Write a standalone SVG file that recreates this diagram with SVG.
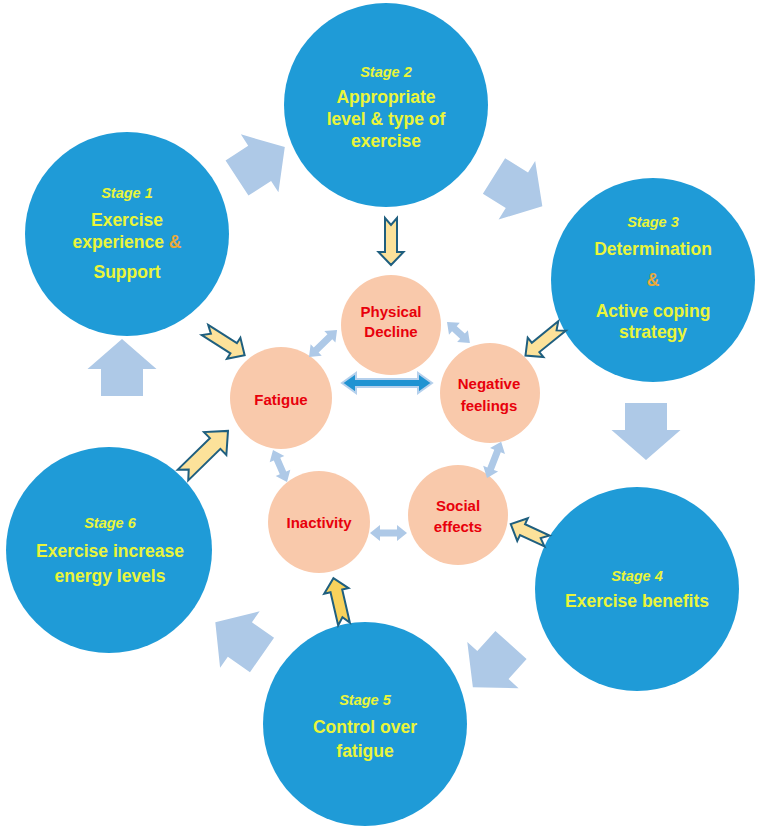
<svg xmlns="http://www.w3.org/2000/svg" width="764" height="834" viewBox="0 0 764 834">
<style>
.stage{fill:#1F9BD7}
.core{fill:#F9C9AB}
.big{fill:#AEC9E7}
.yarr{fill:#FCE29A;stroke:#1F5F7F;stroke-width:2;stroke-linejoin:miter}
.darr{fill:#AEC9E7}
.st{font-family:"Liberation Sans",Arial,sans-serif;font-weight:bold;font-style:italic;font-size:14.5px;fill:#EAF53A;text-anchor:middle}
.sm{font-family:"Liberation Sans",Arial,sans-serif;font-weight:bold;font-size:17.5px;fill:#EAF53A;text-anchor:middle}
.amp{fill:#E9A93B}
.ct{font-family:"Liberation Sans",Arial,sans-serif;font-weight:bold;font-size:15px;fill:#E8000B;text-anchor:middle}
</style>
<defs>
<polygon id="bigArrow" points="0,-21 27,-21 27,-34.5 57,0 27,34.5 27,21 0,21"/>
</defs>
<rect width="764" height="834" fill="#FFFFFF"/>

<g id="cycle-arrows">
<use href="#bigArrow" class="big" transform="translate(237,178) rotate(-33)"/>
<use href="#bigArrow" class="big" transform="translate(494,176) rotate(32)"/>
<use href="#bigArrow" class="big" transform="translate(646,403) rotate(90)"/>
<use href="#bigArrow" class="big" transform="translate(511,645) rotate(132)"/>
<use href="#bigArrow" class="big" transform="translate(262,655) rotate(215)"/>
<use href="#bigArrow" class="big" transform="translate(122,396) rotate(-90)"/>
</g>

<g id="stage1">
<circle class="stage" cx="127" cy="234" r="102"/>
<text class="st" x="127" y="198">Stage 1</text>
<text class="sm" x="127" y="226">Exercise</text>
<text class="sm" x="127" y="248">experience <tspan class="amp">&amp;</tspan></text>
<text class="sm" x="127" y="278">Support</text>
</g>
<g id="stage2">
<circle class="stage" cx="386" cy="105" r="102"/>
<text class="st" x="386" y="77">Stage 2</text>
<text class="sm" x="386" y="103">Appropriate</text>
<text class="sm" x="386" y="125">level &amp; type of</text>
<text class="sm" x="386" y="147">exercise</text>
</g>
<g id="stage3">
<circle class="stage" cx="653" cy="280" r="102"/>
<text class="st" x="653" y="227">Stage 3</text>
<text class="sm" x="653" y="255">Determination</text>
<text class="sm amp" x="653" y="286">&amp;</text>
<text class="sm" x="653" y="317">Active coping</text>
<text class="sm" x="653" y="338">strategy</text>
</g>
<g id="stage4">
<circle class="stage" cx="637" cy="589" r="102"/>
<text class="st" x="637" y="581">Stage 4</text>
<text class="sm" x="637" y="607">Exercise benefits</text>
</g>
<g id="stage5">
<circle class="stage" cx="365" cy="724" r="102"/>
<text class="st" x="365" y="705">Stage 5</text>
<text class="sm" x="365" y="733">Control over</text>
<text class="sm" x="365" y="757">fatigue</text>
</g>
<g id="stage6">
<circle class="stage" cx="109" cy="550" r="103"/>
<text class="st" x="110" y="528">Stage 6</text>
<text class="sm" x="110" y="557">Exercise increase</text>
<text class="sm" x="110" y="582">energy levels</text>
</g>

<g id="physical-decline">
<circle class="core" cx="391" cy="325" r="50"/>
<text class="ct" x="391" y="317">Physical</text>
<text class="ct" x="391" y="337">Decline</text>
</g>
<g id="negative-feelings">
<circle class="core" cx="490" cy="393" r="50"/>
<text class="ct" x="489" y="389">Negative</text>
<text class="ct" x="489" y="411">feelings</text>
</g>
<g id="social-effects">
<circle class="core" cx="458" cy="515" r="50"/>
<text class="ct" x="458" y="511">Social</text>
<text class="ct" x="458" y="532">effects</text>
</g>
<g id="inactivity">
<circle class="core" cx="319" cy="522" r="51"/>
<text class="ct" x="319" y="528">Inactivity</text>
</g>
<g id="fatigue">
<circle class="core" cx="281" cy="398" r="51"/>
<text class="ct" x="281" y="405">Fatigue</text>
</g>

<g id="connectors">
<polygon class="yarr" transform="translate(205,330) rotate(32.5)" points="0,-6 34,-6 34,-12.5 47,0 34,12.5 34,6 0,6 7,0"/>
<polygon class="yarr" transform="translate(391,218) rotate(90)" points="0,-6 34,-6 34,-12.5 47,0 34,12.5 34,6 0,6 7,0"/>
<polygon class="yarr" transform="translate(562,326) rotate(141)" points="0,-6 34,-6 34,-12.5 47,0 34,12.5 34,6 0,6 7,0"/>
<polygon class="yarr" transform="translate(547,541) rotate(205)" points="0,-6 27,-6 27,-12.5 40,0 27,12.5 27,6 0,6 7,0"/>
<polygon class="yarr" style="fill:#F8D25C" transform="translate(344,624) rotate(-103)" points="0,-6 34,-6 34,-12.5 47,0 34,12.5 34,6 0,6 7,0"/>
<polygon class="yarr" transform="translate(183,475) rotate(-44.4)" points="0,-7.5 45,-7.5 45,-16 63,0 45,16 45,7.5 0,7.5 8,0"/>

<polygon class="darr" transform="translate(309,357) rotate(-44)" points="0,0 10,-8 10,-3.5 29,-3.5 29,-8 39,0 29,8 29,3.5 10,3.5 10,8"/>
<polygon class="darr" transform="translate(447,322) rotate(42.4)" points="0,0 10,-8 10,-3.5 21,-3.5 21,-8 31,0 21,8 21,3.5 10,3.5 10,8"/>
<polygon class="darr" transform="translate(273,450) rotate(66.4)" points="0,0 10,-8 10,-3.5 25,-3.5 25,-8 35,0 25,8 25,3.5 10,3.5 10,8"/>
<polygon class="darr" transform="translate(370,533)" points="0,0 10,-8 10,-3.5 27,-3.5 27,-8 37,0 27,8 27,3.5 10,3.5 10,8"/>
<polygon class="darr" transform="translate(487,478) rotate(-68.7)" points="0,0 10,-8 10,-3.5 29,-3.5 29,-8 39,0 29,8 29,3.5 10,3.5 10,8"/>
<polygon fill="#1F93D2" stroke="#B5D0EC" stroke-width="2" transform="translate(342,383)" points="0,0 14,-10 14,-4 76,-4 76,-10 90,0 76,10 76,4 14,4 14,10"/>
</g>
</svg>
